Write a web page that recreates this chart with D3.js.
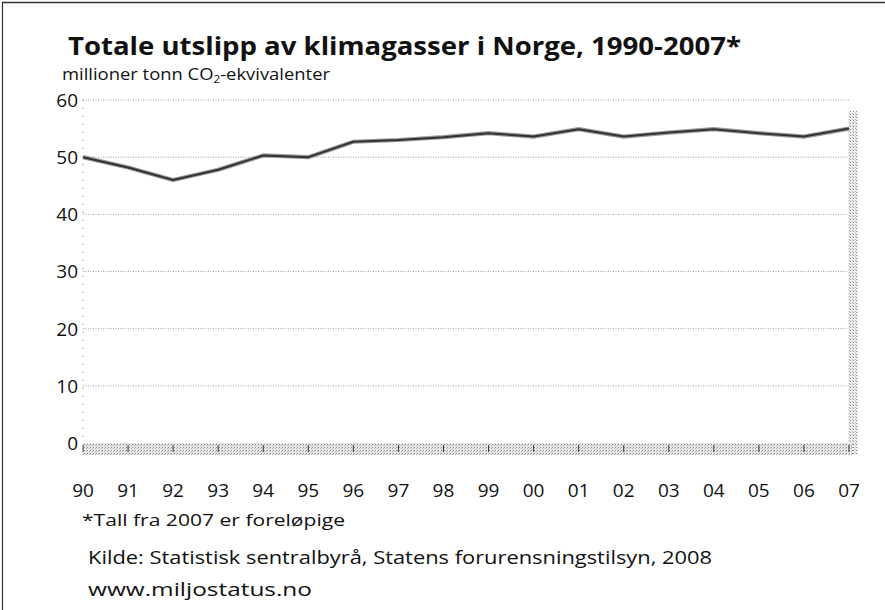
<!DOCTYPE html>
<html>
<head>
<meta charset="utf-8">
<script src="https://cdn.jsdelivr.net/npm/d3@7"></script>
<style>
  html, body { margin: 0; padding: 0; background: #fff; }
  svg { display: block; }
  text { font-family: "Open Sans", "Liberation Sans", sans-serif; fill: #111; }
</style>
</head>
<body>
<svg id="chart" width="885" height="610"></svg>
<script>
// ---- data ----
const years = [1990,1991,1992,1993,1994,1995,1996,1997,1998,1999,2000,2001,2002,2003,2004,2005,2006,2007];
const emissions = [50.0,48.2,46.0,47.8,50.3,50.0,52.7,53.0,53.5,54.2,53.6,54.9,53.6,54.3,54.9,54.2,53.6,55.0];
const yTicks = [0,10,20,30,40,50,60];
const xTickLabels = ["90","91","92","93","94","95","96","97","98","99","00","01","02","03","04","05","06","07"];
const titleText = "Totale utslipp av klimagasser i Norge, 1990-2007*";
const noteText = "*Tall fra 2007 er foreløpige";
const sourceText = "Kilde: Statistisk sentralbyrå, Statens forurensningstilsyn, 2008";
const urlText = "www.miljostatus.no";

const svg = d3.select("#chart");
const L = 83, R = 849, T = 100, B = 443;

const x = d3.scaleLinear().domain([1990, 2007]).range([L, R]);
const y = d3.scaleLinear().domain([0, 60]).range([B, T]);

// patterns for stippled floor/wall
const defs = svg.append("defs");
const pat = defs.append("pattern").attr("id","stip").attr("width",3).attr("height",3)
  .attr("patternUnits","userSpaceOnUse");
pat.append("rect").attr("width",3).attr("height",3).attr("fill","#e6e6e6");
pat.append("rect").attr("x",0).attr("y",0).attr("width",1).attr("height",1).attr("fill","#8a8a8a");
pat.append("rect").attr("x",2).attr("y",1).attr("width",1).attr("height",1).attr("fill","#b0b0b0");
const pat2 = defs.append("pattern").attr("id","stip2").attr("width",3).attr("height",3)
  .attr("patternUnits","userSpaceOnUse");
pat2.append("rect").attr("width",3).attr("height",3).attr("fill","#eeeeee");
pat2.append("rect").attr("x",1).attr("y",0).attr("width",1).attr("height",1).attr("fill","#8a8a8a");
pat2.append("rect").attr("x",0).attr("y",2).attr("width",1).attr("height",1).attr("fill","#b5b5b5");

// frame
svg.append("line").attr("x1",2).attr("x2",885).attr("y1",2.5).attr("y2",2.5)
  .attr("stroke","#333").attr("stroke-width",1.4);
svg.append("line").attr("x1",2.5).attr("x2",2.5).attr("y1",2).attr("y2",610)
  .attr("stroke","#333").attr("stroke-width",1.2);

// helper: text fitted to a width
function fitText(sel, w) {
  sel.attr("textLength", w).attr("lengthAdjust", "spacingAndGlyphs");
  return sel;
}

// title
fitText(svg.append("text").attr("x",68).attr("y",55)
  .attr("font-size",25).attr("font-weight","bold").text(titleText), 673);

// subtitle with subscript
const sub = svg.append("text").attr("x",62).attr("y",80).attr("font-size",16.5);
sub.append("tspan").text("millioner tonn CO");
sub.append("tspan").attr("font-size",10.5).attr("dy",3).text("2");
sub.append("tspan").attr("dy",-3).text("-ekvivalenter");
fitText(sub, 268);

// gridlines
svg.append("g").selectAll("line").data(yTicks.filter(d => d > 0)).join("line")
  .attr("x1", L).attr("x2", R).attr("y1", d => y(d)).attr("y2", d => y(d))
  .attr("stroke","#888").attr("stroke-width",0.8).attr("stroke-dasharray","1,1.5");

// left faint axis
svg.append("line").attr("x1",L).attr("x2",L).attr("y1",T).attr("y2",B)
  .attr("stroke","#666").attr("stroke-width",0.8).attr("stroke-dasharray","1,7");

// right wall
svg.append("rect").attr("x",R-1).attr("y",111).attr("width",10).attr("height",B-111+12)
  .attr("fill","url(#stip2)");
// floor
svg.append("rect").attr("x",L).attr("y",B).attr("width",R-L+4).attr("height",12)
  .attr("fill","url(#stip)");

// floor ticks
svg.append("g").selectAll("line").data(years).join("line")
  .attr("x1", d => x(d)).attr("x2", d => x(d)).attr("y1", B+2).attr("y2", B+9)
  .attr("stroke","#333").attr("stroke-width",1);

// y labels
svg.append("g").selectAll("text").data(yTicks).join("text")
  .attr("x", 78).attr("y", d => y(d)).attr("dy","0.36em").attr("text-anchor","end")
  .attr("font-size",19).text(d => d);

// x labels
svg.append("g").selectAll("text").data(years).join("text")
  .attr("x", d => x(d)).attr("y", 497).attr("text-anchor","middle")
  .attr("font-size",19).text((d,i) => xTickLabels[i]);

// line
const line = d3.line().x((d,i) => x(years[i])).y(d => y(d));
svg.append("path").datum(emissions).attr("d", line)
  .attr("fill","none").attr("stroke","#999").attr("stroke-width",4.2).attr("stroke-linejoin","round");
svg.append("path").datum(emissions).attr("d", line)
  .attr("fill","none").attr("stroke","#333").attr("stroke-width",2).attr("stroke-linejoin","round");

// footnotes
fitText(svg.append("text").attr("x",82).attr("y",526).attr("font-size",17).text(noteText), 263);
fitText(svg.append("text").attr("x",88).attr("y",564).attr("font-size",18).text(sourceText), 624);
fitText(svg.append("text").attr("x",88).attr("y",596).attr("font-size",18).text(urlText), 224);
</script>
</body>
</html>
